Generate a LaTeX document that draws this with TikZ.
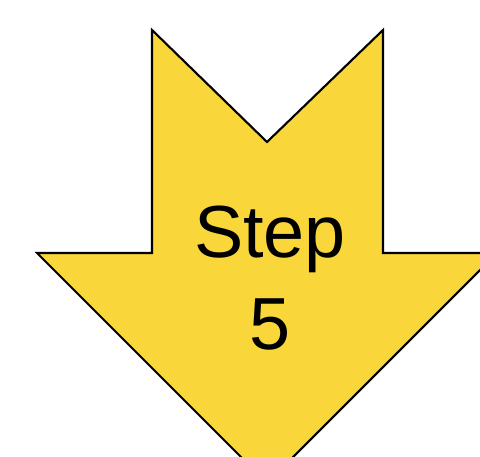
\documentclass[tikz,border=0pt]{standalone}
\usepackage{fontspec}
\setmainfont{Liberation Sans}
\usepackage{tikz}
\usetikzlibrary{positioning,calc}
\definecolor{Gold}{HTML}{F9D639}
\tikzset{
 stepshape/.style={draw=black,fill=Gold,line width=1.8pt,line join=miter},
 steplabel/.style={align=center,font=\fontsize{63}{79}\selectfont,inner sep=0pt}
}
\begin{document}
\begin{tikzpicture}[x=0.03cm,y=-0.03cm]
\clip (0,0) rectangle (480,457);
\useasboundingbox (0,0) rectangle (480,457);
\draw[stepshape] (152,30) -- (267,142) -- (383,30) -- (383,253) -- (497,253)
  -- (267,483) -- (37,253) -- (152,253) -- cycle;
\node[steplabel] (lbl) at (270,278) {Step\\5};
\end{tikzpicture}
\end{document}
